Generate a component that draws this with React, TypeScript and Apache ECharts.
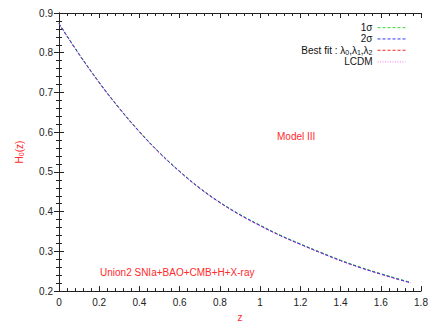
import React, { useEffect, useRef } from "react";
import * as echarts from "echarts";

const zValues = [0, 0.1, 0.2, 0.3, 0.4, 0.5, 0.6, 0.7, 0.8, 0.9, 1.0, 1.1, 1.2, 1.3, 1.4, 1.5, 1.6, 1.7, 1.75];
const sigma1 = [0.874, 0.797, 0.726, 0.661, 0.602, 0.549, 0.502, 0.46, 0.424, 0.393, 0.366, 0.341, 0.319, 0.298, 0.278, 0.26, 0.244, 0.229, 0.222];
const sigma2 = [0.873, 0.796, 0.725, 0.66, 0.601, 0.548, 0.501, 0.459, 0.423, 0.392, 0.365, 0.34, 0.318, 0.297, 0.277, 0.259, 0.243, 0.228, 0.221];
const bestFit = [0.873, 0.796, 0.725, 0.66, 0.601, 0.548, 0.501, 0.459, 0.423, 0.392, 0.365, 0.34, 0.318, 0.297, 0.277, 0.259, 0.243, 0.228, 0.221];
const lcdm = [0.872, 0.795, 0.724, 0.659, 0.6, 0.547, 0.5, 0.458, 0.422, 0.391, 0.364, 0.339, 0.317, 0.296, 0.276, 0.258, 0.242, 0.227, 0.22];

const seriesNames = ["1σ", "2σ", "Best fit : λ0,λ1,λ2", "LCDM"];
const seriesColors = ["#33dd33", "#3333ff", "#ff2222", "#ff77ff"];
const seriesDash: any[] = [[3, 2], [3, 2], [3, 2], [1, 1.5]];
const seriesData = [sigma1, sigma2, bestFit, lcdm];

const FONT = "'Liberation Sans', Arial, Helvetica, sans-serif";
const RED = "#ff2a2a";

export default function App() {
  const ref = useRef<HTMLDivElement>(null);
  useEffect(() => {
    if (!ref.current) return;
    const chart = echarts.init(ref.current, undefined, { renderer: "svg" });
    const tickCommon = {
      axisLine: { show: true, lineStyle: { color: "#222", width: 1 } },
      axisTick: { show: true, inside: true, length: 5, lineStyle: { color: "#222" } },
      minorTick: { show: true, splitNumber: 5, length: 3, lineStyle: { color: "#222" } },
      splitLine: { show: false },
    };
    const drawOrder = [3, 2, 0, 1];
    chart.setOption({
      animation: false,
      backgroundColor: "#fff",
      textStyle: { fontFamily: FONT },
      grid: { left: 59, right: 15, top: 13, bottom: 34, show: false },
      legend: {
        orient: "vertical",
        align: "right",
        right: 30,
        top: 22,
        padding: 0,
        itemWidth: 28,
        itemHeight: 6,
        itemGap: 0,
        data: seriesNames,
        itemStyle: { opacity: 0 },
        lineStyle: { width: 1 },
        textStyle: {
          fontSize: 10,
          color: "#111",
          lineHeight: 11.3,
          fontFamily: FONT,
          rich: {
            s: { fontSize: 7, padding: [5, 0, 0, 0], color: "#111", fontFamily: FONT },
          },
        },
        formatter: (name: string) =>
          name === seriesNames[2] ? "Best fit : λ{s|0},λ{s|1},λ{s|2}" : name,
      },
      xAxis: [
        {
          type: "value",
          min: 0,
          max: 1.8,
          interval: 0.2,
          name: "z",
          nameLocation: "middle",
          nameGap: 20,
          nameTextStyle: { color: RED, fontSize: 10, fontFamily: FONT },
          axisLabel: { fontSize: 10, color: "#222", margin: 6, fontFamily: FONT },
          ...tickCommon,
        },
        {
          type: "value",
          position: "top",
          min: 0,
          max: 1.8,
          interval: 0.2,
          axisLabel: { show: false },
          ...tickCommon,
        },
      ],
      yAxis: [
        {
          type: "value",
          min: 0.2,
          max: 0.9,
          interval: 0.1,
          name: "H{sub|0}(z)",
          nameLocation: "middle",
          nameGap: 34,
          nameTextStyle: {
            color: RED,
            fontSize: 10,
            fontFamily: FONT,
            rich: { sub: { fontSize: 7, color: RED, padding: [5, 0, 0, 0], fontFamily: FONT } },
          },
          axisLabel: { fontSize: 10, color: "#222", margin: 6, fontFamily: FONT },
          ...tickCommon,
        },
        {
          type: "value",
          position: "right",
          min: 0.2,
          max: 0.9,
          interval: 0.1,
          axisLabel: { show: false },
          ...tickCommon,
        },
      ],
      graphic: [
        {
          type: "text",
          left: 277,
          top: 131,
          style: { text: "Model III", fill: RED, fontSize: 10, fontFamily: FONT },
        },
        {
          type: "text",
          left: 100,
          top: 267,
          style: { text: "Union2 SNIa+BAO+CMB+H+X-ray", fill: RED, fontSize: 10, fontFamily: FONT },
        },
      ],
      series: drawOrder.map((i) => ({
        name: seriesNames[i],
        type: "line",
        showSymbol: false,
        symbol: "none",
        smooth: 0.4,
        color: seriesColors[i],
        lineStyle: { color: seriesColors[i], width: 1, type: seriesDash[i] },
        data: zValues.map((z, k) => [z, seriesData[i][k]]),
      })),
    });
    return () => chart.dispose();
  }, []);
  return (
    <div
      ref={ref}
      style={{ position: "absolute", left: 0, top: 0, width: 436, height: 327, background: "#fff" }}
    />
  );
}
